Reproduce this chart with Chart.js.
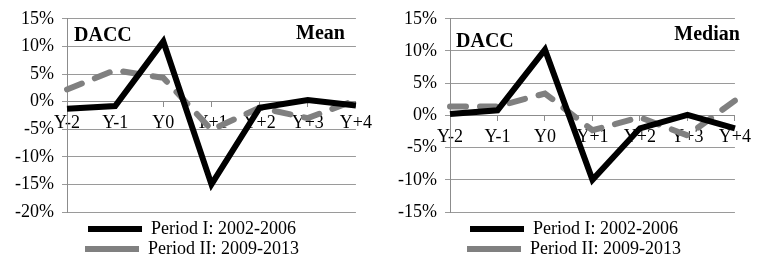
<!DOCTYPE html>
<html><head><meta charset="utf-8">
<script src="https://cdn.jsdelivr.net/npm/chart.js@4.4.1/dist/chart.umd.min.js"></script>
<style>
html,body{margin:0;padding:0;background:#fff;}
#wrap{position:relative;width:757px;height:262px;overflow:hidden;background:#fff;}
.box{position:absolute;top:0;height:262px;}
#b1{left:0;width:378px;}
#b2{left:378px;width:379px;}
</style></head><body>
<div id="wrap"><div class="box" id="b1"><canvas id="c1"></canvas></div><div class="box" id="b2"><canvas id="c2"></canvas></div></div>
<script>
const categories = ['Y-2','Y-1','Y0','Y+1','Y+2','Y+3','Y+4'];
const seriesNames = ['Period I: 2002-2006','Period II: 2009-2013'];
const meanPeriod1 = [-1.3, -0.8, 10.9, -15.0, -1.1, 0.3, -0.7];
const meanPeriod2 = [2.2, 5.7, 4.3, -5.1, -1.1, -3.0, 0.3];
const medianPeriod1 = [0.2, 0.8, 10.2, -10.0, -2.0, 0.1, -2.0];
const medianPeriod2 = [1.4, 1.4, 3.4, -2.3, -0.3, -3.1, 2.3];
const meanYRange = [-20, 15];
const medianYRange = [-15, 15];
const yStep = 5;
const panelTitles = ['DACC', 'Mean', 'Median'];

const FONT = '"Liberation Serif", "Times New Roman", serif';

const cornerText = {
  id: 'cornerText',
  afterDraw(chart, args, o) {
    const {ctx, chartArea: a} = chart;
    ctx.save();
    ctx.font = 'bold 20px ' + FONT;
    ctx.fillStyle = '#000';
    ctx.textBaseline = 'middle';
    ctx.textAlign = 'left';
    ctx.fillText(o.left, a.left + o.lx, a.top + o.ly);
    ctx.textAlign = 'right';
    ctx.fillText(o.right, a.right + o.rx, a.top + o.ry);
    ctx.restore();
  }
};

const legendShift = {
  id: 'legendShift',
  afterLayout(chart, args, o) {
    const l = chart.legend;
    if (!l) return;
    const h = l.height;
    l.left += o.dx; l.right += o.dx;
    l.top = chart.chartArea.bottom + o.dy;
    l.bottom = l.top + h;
  }
};

function makeChart(id, s1, s2, range, yWidth, pad, corner, shift) {
  return new Chart(document.getElementById(id), {
    type: 'line',
    data: {
      labels: categories,
      datasets: [
        {label: seriesNames[0], data: s1, borderColor: '#000', backgroundColor: '#000',
         borderWidth: 6, pointRadius: 0, pointHoverRadius: 0, pointStyle: 'line', tension: 0,
         borderJoinStyle: 'miter', borderCapStyle: 'butt', order: 1},
        {label: seriesNames[1], data: s2, borderColor: '#808080', backgroundColor: '#808080',
         borderWidth: 6, borderDash: [16, 14], borderCapStyle: 'round', pointRadius: 0, pointHoverRadius: 0,
         pointStyle: 'line', tension: 0, order: 2}
      ]
    },
    options: {
      responsive: true, maintainAspectRatio: false, animation: false,
      layout: {padding: pad},
      plugins: {
        tooltip: {enabled: false},
        legend: {
          position: 'bottom',
          labels: {usePointStyle: true, pointStyleWidth: 54, boxHeight: 14, padding: 2,
                   color: '#000', font: {family: FONT, size: 18}}
        },
        cornerText: corner,
        legendShift: shift
      },
      scales: {
        x: {
          position: {y: 0},
          offset: false,
          grid: {drawOnChartArea: false, drawTicks: true, tickLength: 5, color: '#8c8c8c'},
          border: {display: true, color: '#8c8c8c', width: 1},
          ticks: {autoSkip: false, maxRotation: 0, padding: 6, color: '#000', font: {family: FONT, size: 18}}
        },
        y: {
          min: range[0], max: range[1],
          afterFit(scale) { scale.width = yWidth; },
          grid: {color: '#9a9a9a', lineWidth: 1, tickLength: 5, drawTicks: true},
          border: {display: true, color: '#8c8c8c'},
          ticks: {stepSize: yStep, padding: 8, color: '#000', font: {family: FONT, size: 18},
                  callback: v => v + '%'}
        }
      }
    },
    plugins: [cornerText, legendShift]
  });
}

makeChart('c1', meanPeriod1, meanPeriod2, meanYRange, 67, {top: 14, right: 18, bottom: 0, left: 0},
  {left: panelTitles[0], lx: 7, ly: 17, right: panelTitles[1], rx: -11, ry: 15}, {dx: 12, dy: 6});
makeChart('c2', medianPeriod1, medianPeriod2, medianYRange, 72, {top: 14, right: 15, bottom: 0, left: 0},
  {left: panelTitles[0], lx: 6, ly: 23, right: panelTitles[2], rx: 5, ry: 16}, {dx: 14, dy: 6});
</script>
</body></html>
